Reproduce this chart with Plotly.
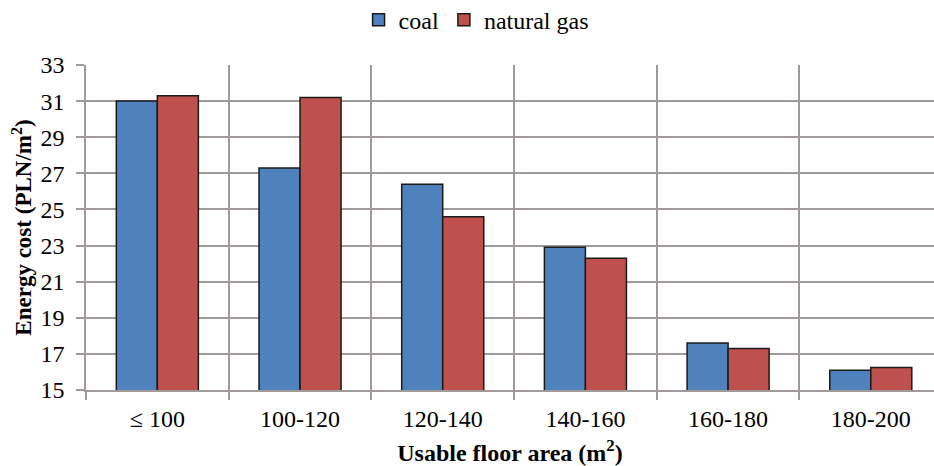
import plotly.graph_objects as go

categories = ["≤ 100", "100-120", "120-140", "140-160", "160-180", "180-200"]
coal = [31.0, 27.3, 26.4, 22.9, 17.6, 16.1]
natural_gas = [31.3, 31.2, 24.6, 22.3, 17.3, 16.25]
y_ticks = [15, 17, 19, 21, 23, 25, 27, 29, 31, 33]

FONT = "'Liberation Serif', 'Times New Roman', serif"
GRID = "#a09a98"

fig = go.Figure()
fig.add_trace(go.Bar(x=categories, y=coal, name="coal",
                     marker=dict(color="#4F81BD", line=dict(color="#1a1a1a", width=1.5))))
fig.add_trace(go.Bar(x=categories, y=natural_gas, name="natural gas",
                     marker=dict(color="#C0504D", line=dict(color="#1a1a1a", width=1.5))))

fig.update_layout(
    width=934, height=466,
    margin=dict(l=86, r=0, t=65, b=76, autoexpand=False),
    paper_bgcolor="white", plot_bgcolor="white",
    barmode="group", bargap=0.425, bargroupgap=0,
    font=dict(family=FONT, color="black", size=22),
    legend=dict(orientation="h", x=0.46, xanchor="center", y=1.138, yanchor="middle",
                font=dict(family=FONT, size=24, color="black"), traceorder="normal"),
    showlegend=True,
)
fig.update_xaxes(
    range=[-0.5, 5.443],
    tickson="boundaries", ticks="outside", ticklen=8, tickcolor=GRID, tickwidth=1.5,
    showgrid=True, gridcolor=GRID, gridwidth=1.5,
    showline=True, linecolor=GRID, linewidth=1.5,
    tickfont=dict(family=FONT, size=24, color="black"), ticklabelstandoff=6,
    title=dict(text="<b>Usable floor area (m<sup>2</sup>)</b>",
               font=dict(family=FONT, size=24, color="black"), standoff=14),
)
fig.update_yaxes(
    range=[15, 33], tickvals=y_ticks,
    ticks="outside", ticklen=8, tickcolor=GRID, tickwidth=1.5,
    showgrid=True, gridcolor=GRID, gridwidth=1.5,
    showline=True, linecolor=GRID, linewidth=1.5,
    tickfont=dict(family=FONT, size=24, color="black"), ticklabelstandoff=7,
    title=dict(text="<b>Energy cost (PLN/m<sup>2</sup>)</b>",
               font=dict(family=FONT, size=23, color="black"), standoff=2),
)

fig.write_html("out.html", config={"displayModeBar": False},
               post_script="document.body.style.margin='0';document.body.style.overflow='hidden';")
